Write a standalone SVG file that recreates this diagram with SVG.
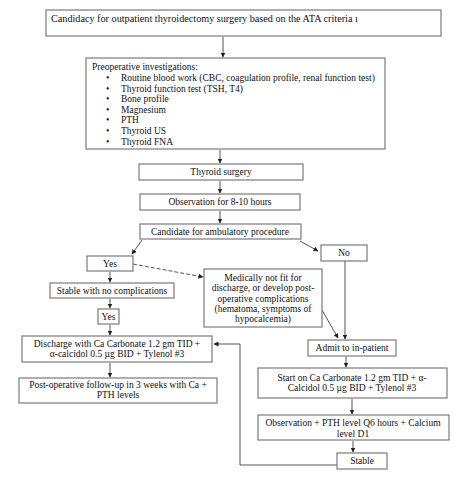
<svg xmlns="http://www.w3.org/2000/svg" width="474" height="481" viewBox="0 0 474 481">
<style>
.b{fill:#fff;stroke:#7a7a7a;stroke-width:1.2}
text{font-family:"Liberation Serif","Times New Roman",serif;font-size:9.5px;fill:#111}
.c{text-anchor:middle}
.t{font-size:10.2px}
.l{fill:none;stroke:#555;stroke-width:1}
.d{stroke-dasharray:4,2}
</style>
<defs>
<marker id="a" viewBox="0 0 10 10" refX="9" refY="5" markerWidth="5" markerHeight="5" orient="auto">
<path d="M0,0 L10,5 L0,10 z" fill="#222"/>
</marker>
</defs>
<rect width="474" height="481" fill="#fff"/>
<g id="connectors">
<line class="l" x1="223" y1="37" x2="223" y2="57" marker-end="url(#a)"/>
<line class="l" x1="220" y1="150" x2="220" y2="163" marker-end="url(#a)"/>
<line class="l" x1="220" y1="181" x2="220" y2="193" marker-end="url(#a)"/>
<line class="l" x1="220" y1="211" x2="220" y2="223" marker-end="url(#a)"/>
<line class="l" x1="142" y1="240" x2="132" y2="254" marker-end="url(#a)"/>
<line class="l" x1="300" y1="241" x2="318" y2="251" marker-end="url(#a)"/>
<line class="l d" x1="133" y1="264" x2="203" y2="277" marker-end="url(#a)"/>
<line class="l" x1="110" y1="272" x2="110" y2="282" marker-end="url(#a)"/>
<line class="l" x1="110" y1="299" x2="110" y2="308" marker-end="url(#a)"/>
<line class="l" x1="110" y1="325" x2="110" y2="335" marker-end="url(#a)"/>
<line class="l" x1="110" y1="363" x2="110" y2="377" marker-end="url(#a)"/>
<line class="l" x1="345" y1="261" x2="345" y2="339" marker-end="url(#a)"/>
<line class="l" x1="322" y1="310" x2="338" y2="338" marker-end="url(#a)"/>
<line class="l" x1="346" y1="357" x2="346" y2="367" marker-end="url(#a)"/>
<line class="l" x1="352" y1="399" x2="352" y2="414" marker-end="url(#a)"/>
<line class="l" x1="353" y1="441" x2="353" y2="452" marker-end="url(#a)"/>
<polyline class="l" points="337,465 240,465 240,344 214,344" marker-end="url(#a)"/>
</g>
<g id="n1"><rect class="b" x="46" y="10" width="395" height="26"/>
<text class="t" x="51" y="22">Candidacy for outpatient thyroidectomy surgery based on the ATA criteria ı</text></g>
<g id="n2"><rect class="b" x="86" y="58" width="299" height="91"/>
<text x="92" y="70">Preoperative investigations:</text>
<g>
<text x="106" y="81">•</text><text x="121" y="81">Routine blood work (CBC, coagulation profile, renal function test)</text>
<text x="106" y="92">•</text><text x="121" y="92">Thyroid function test (TSH, T4)</text>
<text x="106" y="102">•</text><text x="121" y="102">Bone profile</text>
<text x="106" y="113">•</text><text x="121" y="113">Magnesium</text>
<text x="106" y="123">•</text><text x="121" y="123">PTH</text>
<text x="106" y="134">•</text><text x="121" y="134">Thyroid US</text>
<text x="106" y="145">•</text><text x="121" y="145">Thyroid FNA</text>
</g></g>
<g id="n3"><rect class="b" x="139" y="164" width="164" height="16"/>
<text class="c" x="221" y="175">Thyroid surgery</text></g>
<g id="n4"><rect class="b" x="140" y="194" width="160" height="16"/>
<text class="c" x="220" y="205">Observation for 8-10 hours</text></g>
<g id="n5"><rect class="b" x="140" y="224" width="161" height="15"/>
<text class="c" x="220" y="235">Candidate for ambulatory procedure</text></g>
<g id="n6"><rect class="b" x="87" y="256" width="46" height="15"/>
<text class="c" x="110" y="267">Yes</text></g>
<g id="n7"><rect class="b" x="321" y="245" width="46" height="16"/>
<text class="c" x="344" y="256">No</text></g>
<g id="n8"><rect class="b" x="204" y="269" width="118" height="58"/>
<text class="c" x="263" y="281">Medically not fit for</text>
<text class="c" x="263" y="291">discharge, or develop post-</text>
<text class="c" x="263" y="302">operative complications</text>
<text class="c" x="263" y="312">(hematoma, symptoms of</text>
<text class="c" x="263" y="322">hypocalcemia)</text></g>
<g id="n9"><rect class="b" x="50" y="283" width="124" height="15"/>
<text class="c" x="112" y="294">Stable with no complications</text></g>
<g id="n10"><rect class="b" x="98" y="309" width="21" height="15"/>
<text class="c" x="108.5" y="320">Yes</text></g>
<g id="n11"><rect class="b" x="22" y="336" width="190" height="26"/>
<text class="c" x="117" y="347">Discharge with Ca Carbonate 1.2 gm TID +</text>
<text class="c" x="117" y="357">α-calcidol 0.5 µg BID + Tylenol #3</text></g>
<g id="n12"><rect class="b" x="19" y="378" width="198" height="25"/>
<text class="c" x="118" y="388">Post-operative follow-up in 3 weeks with Ca +</text>
<text class="c" x="118" y="398">PTH levels</text></g>
<g id="n13"><rect class="b" x="308" y="340" width="88" height="16"/>
<text class="c" x="352" y="351">Admit to in-patient</text></g>
<g id="n14"><rect class="b" x="258" y="368" width="189" height="30"/>
<text class="c" x="352" y="381">Start on Ca Carbonate 1.2 gm TID + α-</text>
<text class="c" x="352" y="391">Calcidol 0.5 µg BID + Tylenol #3</text></g>
<g id="n15"><rect class="b" x="258" y="415" width="191" height="25"/>
<text class="c" x="353" y="426">Observation + PTH level Q6 hours + Calcium</text>
<text class="c" x="353" y="437">level D1</text></g>
<g id="n16"><rect class="b" x="337" y="453" width="50" height="16"/>
<text class="c" x="362" y="464">Stable</text></g>
</svg>
